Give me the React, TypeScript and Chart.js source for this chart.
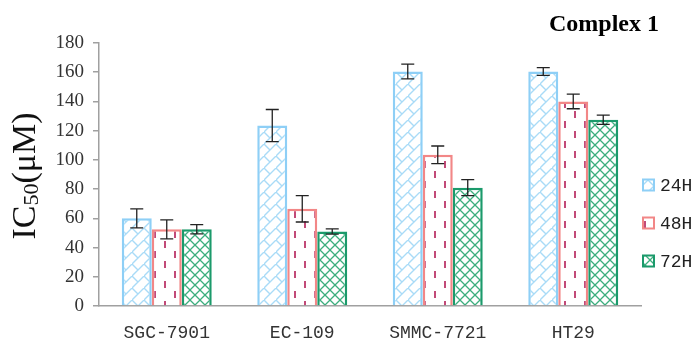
import React, { useEffect, useRef } from "react";
import { Chart, registerables } from "chart.js";

Chart.register(...registerables);

const categories = ["SGC-7901", "EC-109", "SMMC-7721", "HT29"];
const seriesLabels = ["24H", "48H", "72H"];
const values24 = [60, 123.5, 160.5, 160.5];
const values48 = [52.5, 66.5, 103.5, 140];
const values72 = [52.5, 51, 81, 127.5];
const errors24 = [6.5, 11, 5, 2.7];
const errors48 = [6.5, 9, 6, 5];
const errors72 = [3.2, 1.8, 5.5, 3.2];
const yTicks = [0, 20, 40, 60, 80, 100, 120, 140, 160, 180];
const chartTitle = "Complex 1";

function makeTile(w: number, h: number, draw: (c: CanvasRenderingContext2D) => void) {
  const cv = document.createElement("canvas");
  cv.width = w;
  cv.height = h;
  const c = cv.getContext("2d")!;
  c.fillStyle = "#ffffff";
  c.fillRect(0, 0, w, h);
  draw(c);
  return c.createPattern(cv, "repeat")!;
}

export default function App() {
  const ref = useRef<HTMLCanvasElement>(null);
  useEffect(() => {
    const canvas = ref.current!;
    const ctx = canvas.getContext("2d")!;

    const bluePattern = makeTile(12, 12, (c) => {
      c.strokeStyle = "#A9DBF7";
      c.lineWidth = 1.4;
      c.beginPath();
      c.moveTo(-1, 13);
      c.lineTo(13, -1);
      c.moveTo(0, 0);
      c.lineTo(6, 6);
      c.stroke();
    });
    const redPattern = makeTile(20, 20, (c) => {
      c.fillStyle = "#C24A78";
      c.fillRect(4, 1, 2, 7);
      c.fillRect(14, 11, 2, 7);
    });
    const greenPattern = makeTile(10, 10, (c) => {
      c.strokeStyle = "#3CAE7E";
      c.lineWidth = 1.3;
      c.beginPath();
      c.moveTo(0, 0);
      c.lineTo(10, 10);
      c.moveTo(0, 10);
      c.lineTo(10, 0);
      c.stroke();
    });

    const errorSets = [errors24, errors48, errors72];

    const extras = {
      id: "extras",
      afterDatasetsDraw(chart: any) {
        const c = chart.ctx;
        const y = chart.scales.y;
        c.save();
        c.strokeStyle = "#222222";
        c.lineWidth = 1.3;
        chart.data.datasets.forEach((ds: any, di: number) => {
          const meta = chart.getDatasetMeta(di);
          meta.data.forEach((bar: any, i: number) => {
            const v = ds.data[i];
            const e = errorSets[di][i];
            const yt = y.getPixelForValue(v + e);
            const yb = y.getPixelForValue(v - e);
            c.beginPath();
            c.moveTo(bar.x, yt);
            c.lineTo(bar.x, yb);
            c.moveTo(bar.x - 6.5, yt);
            c.lineTo(bar.x + 6.5, yt);
            c.moveTo(bar.x - 6.5, yb);
            c.lineTo(bar.x + 6.5, yb);
            c.stroke();
          });
        });
        c.restore();
      },
      afterDraw(chart: any) {
        const c = chart.ctx;
        c.save();
        c.fillStyle = "#000";
        c.font = "bold 24px 'Liberation Serif'";
        c.textAlign = "right";
        c.textBaseline = "alphabetic";
        c.fillText(chartTitle, 659, 31);
        const big = "34px 'Liberation Serif'";
        const small = "22px 'Liberation Serif'";
        c.font = big;
        const w1 = c.measureText("IC").width;
        const w3 = c.measureText("(μM)").width;
        c.font = small;
        const w2 = c.measureText("50").width;
        const total = w1 + w2 + w3;
        c.translate(35, 176);
        c.rotate(-Math.PI / 2);
        c.textAlign = "left";
        let x = -total / 2;
        c.font = big;
        c.fillStyle = "#111";
        c.fillText("IC", x, 0);
        x += w1;
        c.font = small;
        c.fillText("50", x, 3);
        x += w2;
        c.font = big;
        c.fillText("(μM)", x, 0);
        c.restore();
        c.save();
        const ys = [185, 223, 261];
        chart.data.datasets.forEach((ds: any, di: number) => {
          const cy = ys[di];
          c.fillStyle = ds.backgroundColor;
          c.fillRect(643, cy - 5.5, 11, 11);
          c.strokeStyle = ds.borderColor;
          c.lineWidth = 2;
          c.strokeRect(643, cy - 5.5, 11, 11);
          c.fillStyle = "#222";
          c.font = "18px 'Liberation Mono'";
          c.textAlign = "left";
          c.textBaseline = "middle";
          c.fillText(ds.label, 660, cy + 1);
        });
        c.restore();
      },
    };

    const chart = new Chart(ctx, {
      type: "bar",
      data: {
        labels: categories,
        datasets: [
          { label: seriesLabels[0], data: values24, backgroundColor: bluePattern as any, borderColor: "#8ECFF6", borderWidth: 2.5 },
          { label: seriesLabels[1], data: values48, backgroundColor: redPattern as any, borderColor: "#F28787", borderWidth: 2.5 },
          { label: seriesLabels[2], data: values72, backgroundColor: greenPattern as any, borderColor: "#1B9A6B", borderWidth: 2.5 },
        ],
      },
      options: {
        animation: false,
        responsive: false,
        maintainAspectRatio: false,
        layout: { padding: { left: 0, right: 54, top: 43, bottom: 0 } },
        plugins: { legend: { display: false }, title: { display: false }, tooltip: { enabled: false } },
        datasets: { bar: { categoryPercentage: 0.664, barPercentage: 1 } },
        scales: {
          x: {
            grid: { display: true, drawOnChartArea: false, drawTicks: false },
            border: { display: true, color: "#A0A0A0", width: 1.5 },
            ticks: { color: "#333", font: { family: "'Liberation Mono'", size: 18 }, padding: 16, maxRotation: 0 },
            afterFit: (s: any) => { s.height = 35; },
          },
          y: {
            min: 0,
            max: 180,
            afterBuildTicks: (s: any) => { s.ticks = yTicks.map((v) => ({ value: v })); },
            grid: { display: true, drawOnChartArea: false, drawTicks: true, tickLength: 6, color: "#A0A0A0", lineWidth: 1.5 },
            border: { display: true, color: "#A0A0A0", width: 1.5 },
            ticks: { color: "#333", font: { family: "'Liberation Serif'", size: 19 }, padding: 9 },
            afterFit: (s: any) => { s.width = 99; },
          },
        },
      },
      plugins: [extras],
    });
    return () => chart.destroy();
  }, []);
  return (
    <div style={{ position: "fixed", left: 0, top: 0, width: 695, height: 341, background: "#fff" }}>
      <canvas ref={ref} width={695} height={341} style={{ display: "block" }} />
    </div>
  );
}
